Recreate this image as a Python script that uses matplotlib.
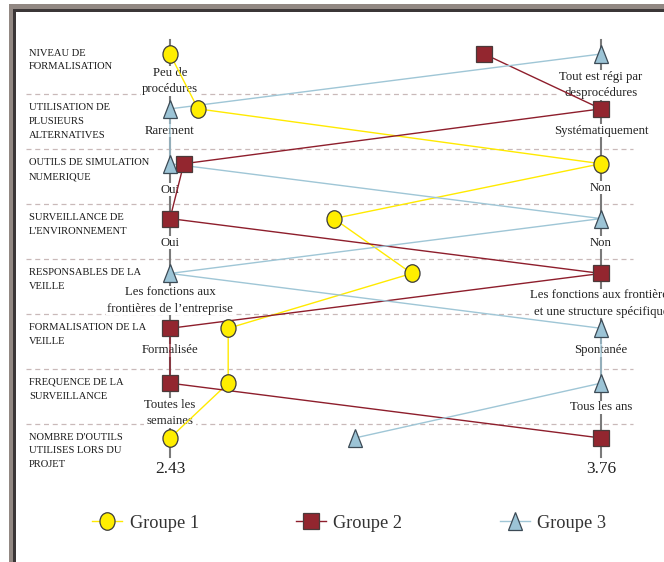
import matplotlib
matplotlib.use("Agg")
import matplotlib.pyplot as plt
from matplotlib.markers import MarkerStyle
from matplotlib.transforms import Affine2D
from matplotlib.patches import Rectangle
from matplotlib.lines import Line2D

# ---------------- data ----------------
criteria = [
    "NIVEAU DE\nFORMALISATION",
    "UTILISATION DE\nPLUSIEURS\nALTERNATIVES",
    "OUTILS DE SIMULATION\nNUMERIQUE",
    "SURVEILLANCE DE\nL'ENVIRONNEMENT",
    "RESPONSABLES DE LA\nVEILLE",
    "FORMALISATION DE LA\nVEILLE",
    "FREQUENCE DE LA\nSURVEILLANCE",
    "NOMBRE D'OUTILS\nUTILISES LORS DU\nPROJET",
]
left_labels = [
    "Peu de\nprocédures",
    "Rarement",
    "Oui",
    "Oui",
    "Les fonctions aux\nfrontières de l\u2019entreprise",
    "Formalisée",
    "Toutes les\nsemaines",
    "2.43",
]
right_labels = [
    "Tout est régi par\ndesprocédures",
    "Systématiquement",
    "Non",
    "Non",
    "Les fonctions aux frontières\net une structure spécifique",
    "Spontanée",
    "Tous les ans",
    "3.76",
]
# position of each group on each criterion (0 = left pole, 1 = right pole)
groupe1 = [0.0, 0.065, 1.0, 0.38, 0.561, 0.135, 0.135]
groupe2 = [0.729, 1.0, 0.032, 0.0, 1.0, 0.0, 0.0]
groupe3 = [1.0, 0.0, 0.0, 1.0, 0.0, 1.0, 1.0]
# last criterion: number of tools (real values)
outils_min, outils_max = 2.43, 3.76
outils = {"Groupe 1": 2.43, "Groupe 2": 3.76, "Groupe 3": 3.00}

def norm(v):
    return (v - outils_min) / (outils_max - outils_min)

series = {
    "Groupe 1": groupe1 + [norm(outils["Groupe 1"])],
    "Groupe 2": groupe2 + [norm(outils["Groupe 2"])],
    "Groupe 3": groupe3 + [norm(outils["Groupe 3"])],
}

# ---------------- styles ----------------
W, H = 664, 562
fig = plt.figure(figsize=(W / 100, H / 100), dpi=100)
fig.patch.set_facecolor("white")

X0, X1 = 170.0, 601.0     # pixel x of the two poles
Y0, DY = 54.0, 54.86      # pixel y of first row, row spacing

ax = fig.add_axes([0, 0, 1, 1])
ax.set_xlim(-X0 / (X1 - X0), (W - X0) / (X1 - X0))
ax.set_ylim((H - Y0) / DY, -Y0 / DY)
ax.axis("off")

def px2x(px):
    return (px - X0) / (X1 - X0)

def py2y(py):
    return (py - Y0) / DY

serif = "Liberation Serif"
n = len(criteria)
rows = list(range(n))

# dashed separators
for r in range(1, n):
    yy = r - 14.5 / DY
    ax.plot([px2x(26), px2x(633)], [yy, yy], color="#c9b9b9", lw=0.9,
            ls=(0, (4, 3)), zorder=1)

# vertical pole axes
for xv in (0, 1):
    ax.plot([xv, xv], [py2y(40), py2y(457)], color="#7a7a7a", lw=1.5, zorder=1)

# pole labels
left_off = [27, 22, 26, 24, 27, 22, 30, 31]
right_off = [31, 22, 24, 24, 30, 22, 24, 31]
for r in rows:
    fs = 12.5 if r == n - 1 else 9.2
    ax.text(0, r + left_off[r] / DY, left_labels[r], ha="center", va="center",
            fontsize=fs, family=serif, color="#222222", linespacing=1.5,
            zorder=2, bbox=dict(boxstyle="square,pad=0.05", fc="white", ec="none"))
    ax.text(1, r + right_off[r] / DY, right_labels[r], ha="center", va="center",
            fontsize=fs, family=serif, color="#222222", linespacing=1.5,
            zorder=2, bbox=dict(boxstyle="square,pad=0.05", fc="white", ec="none"))

# criteria names
for r in rows:
    ax.text(px2x(29), r - 5.5 / DY, criteria[r], ha="left", va="top",
            fontsize=7.6, family=serif, color="#1a1a1a", linespacing=1.7, zorder=2)

ellipse = MarkerStyle("o", transform=Affine2D().scale(0.86, 1.0))
tri = MarkerStyle("^", transform=Affine2D().scale(0.78, 1.0))
styles = {
    "Groupe 1": dict(color="#ffea00", marker=ellipse, mfc="#ffee00", mec="#3a3a3a", ms=12.6),
    "Groupe 2": dict(color="#8e1e2c", marker="s", mfc="#93262f", mec="#4a3a3a", ms=11.2),
    "Groupe 3": dict(color="#9fc6d6", marker=tri, mfc="#9cc4d6", mec="#3c4a55", ms=12.4),
}

handles = []
for name, vals in series.items():
    st = styles[name]
    ax.plot(vals, rows, color=st["color"], lw=1.0, zorder=3)
    ax.plot(vals, rows, ls="none", marker=st["marker"], mfc=st["mfc"],
            mec=st["mec"], mew=0.9, ms=st["ms"], zorder=4)
    handles.append(Line2D([], [], color=st["color"], lw=1.0, marker=st["marker"],
                          mfc=st["mfc"], mec=st["mec"], mew=0.9, ms=st["ms"],
                          label=name))

fig.legend(handles=handles, loc="center left", bbox_to_anchor=(92 / W, 1 - 523 / H),
           ncol=3, frameon=False, borderpad=0, borderaxespad=0,
           handlelength=1.65, handletextpad=0.4, columnspacing=5.3,
           prop=dict(family=serif, size=13.2), labelcolor="#333333")

# outer frame
def frect(x, y, w, h, c):
    fig.add_artist(Rectangle((x / W, 1 - (y + h) / H), w / W, h / H,
                             transform=fig.transFigure, fc=c, ec="none", zorder=10))

frect(9, 4, W - 9, 5, "#928883")
frect(9, 4, 4, H - 4, "#928883")
frect(13, 9, W - 13, 3, "#3b3637")
frect(13, 9, 3, H - 9, "#3b3637")

fig.savefig("out.png", dpi=100)
